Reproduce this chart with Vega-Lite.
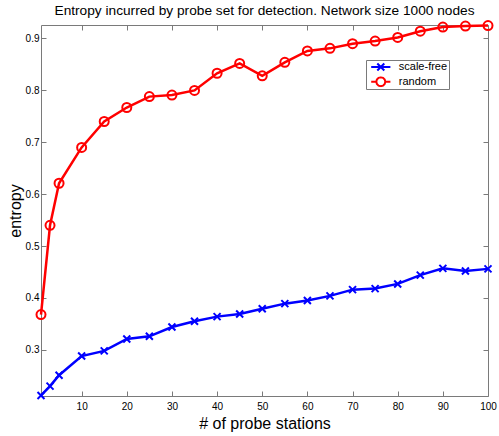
{
  "$schema": "https://vega.github.io/schema/vega-lite/v6.json",
  "width": 447,
  "height": 371,
  "autosize": {"type": "none"},
  "padding": {"left": 41, "top": 25, "right": 11, "bottom": 40},
  "background": "white",
  "config": {
    "view": {"stroke": null},
    "font": "Liberation Sans",
    "axis": {
      "domainColor": "#7a7a7a",
      "tickColor": "#7a7a7a",
      "domainWidth": 1,
      "tickWidth": 1,
      "tickSize": -5,
      "grid": false,
      "labelFlush": false,
      "labelFont": "Liberation Sans",
      "labelFontSize": 10,
      "labelColor": "#000000",
      "titleFont": "Liberation Sans",
      "titleFontSize": 16,
      "titleFontWeight": "normal",
      "titleColor": "#000000"
    }
  },
  "title": {
    "text": "Entropy incurred by probe set for detection. Network size 1000 nodes",
    "font": "Liberation Sans",
    "fontSize": 13.7,
    "fontWeight": "normal",
    "color": "#000000",
    "anchor": "middle",
    "frame": "group",
    "baseline": "alphabetic",
    "offset": 8,
    "dy": 19.5
  },
  "data": {
    "values": [
      {"x": 1, "series": "scale-free", "y": 0.212},
      {"x": 3, "series": "scale-free", "y": 0.230},
      {"x": 5, "series": "scale-free", "y": 0.251},
      {"x": 10, "series": "scale-free", "y": 0.288},
      {"x": 15, "series": "scale-free", "y": 0.298},
      {"x": 20, "series": "scale-free", "y": 0.321},
      {"x": 25, "series": "scale-free", "y": 0.326},
      {"x": 30, "series": "scale-free", "y": 0.344},
      {"x": 35, "series": "scale-free", "y": 0.355},
      {"x": 40, "series": "scale-free", "y": 0.364},
      {"x": 45, "series": "scale-free", "y": 0.369},
      {"x": 50, "series": "scale-free", "y": 0.379},
      {"x": 55, "series": "scale-free", "y": 0.389},
      {"x": 60, "series": "scale-free", "y": 0.395},
      {"x": 65, "series": "scale-free", "y": 0.404},
      {"x": 70, "series": "scale-free", "y": 0.416},
      {"x": 75, "series": "scale-free", "y": 0.418},
      {"x": 80, "series": "scale-free", "y": 0.427},
      {"x": 85, "series": "scale-free", "y": 0.444},
      {"x": 90, "series": "scale-free", "y": 0.457},
      {"x": 95, "series": "scale-free", "y": 0.452},
      {"x": 100, "series": "scale-free", "y": 0.456},
      {"x": 1, "series": "random", "y": 0.368},
      {"x": 3, "series": "random", "y": 0.540},
      {"x": 5, "series": "random", "y": 0.621},
      {"x": 10, "series": "random", "y": 0.690},
      {"x": 15, "series": "random", "y": 0.740},
      {"x": 20, "series": "random", "y": 0.767},
      {"x": 25, "series": "random", "y": 0.788},
      {"x": 30, "series": "random", "y": 0.791},
      {"x": 35, "series": "random", "y": 0.800},
      {"x": 40, "series": "random", "y": 0.833},
      {"x": 45, "series": "random", "y": 0.852},
      {"x": 50, "series": "random", "y": 0.828},
      {"x": 55, "series": "random", "y": 0.854},
      {"x": 60, "series": "random", "y": 0.876},
      {"x": 65, "series": "random", "y": 0.881},
      {"x": 70, "series": "random", "y": 0.890},
      {"x": 75, "series": "random", "y": 0.895},
      {"x": 80, "series": "random", "y": 0.902},
      {"x": 85, "series": "random", "y": 0.914},
      {"x": 90, "series": "random", "y": 0.922},
      {"x": 95, "series": "random", "y": 0.924},
      {"x": 100, "series": "random", "y": 0.925}
    ]
  },
  "resolve": {"axis": {"x": "independent", "y": "independent"}},
  "layer": [
    {
      "mark": {"type": "line", "strokeWidth": 2.5, "clip": false},
      "encoding": {
        "x": {
          "field": "x", "type": "quantitative",
          "scale": {"domain": [1, 100], "nice": false, "zero": false},
          "axis": {
            "orient": "bottom",
            "values": [10, 20, 30, 40, 50, 60, 70, 80, 90, 100],
            "title": "# of probe stations",
            "labelPadding": 10,
            "titleX": 223.5,
            "titleY": 32,
            "titleBaseline": "alphabetic",
            "titleAnchor": null
          }
        },
        "y": {
          "field": "y", "type": "quantitative",
          "scale": {"domain": [0.211, 0.926], "nice": false, "zero": false},
          "axis": {
            "orient": "left",
            "values": [0.3, 0.4, 0.5, 0.6, 0.7, 0.8, 0.9],
            "format": ".1f",
            "title": "entropy",
            "labelPadding": 7,
            "titleX": -20.5,
            "titleY": 185.5,
            "titleAngle": -90,
            "titleBaseline": "alphabetic",
            "titleAlign": "center"
          }
        },
        "color": {
          "field": "series", "type": "nominal",
          "scale": {"domain": ["scale-free", "random"], "range": ["#0000ff", "#ff0000"]},
          "legend": {
            "title": null,
            "orient": "none",
            "legendX": 325,
            "legendY": 35,
            "strokeColor": "#7a7a7a",
            "fillColor": "#ffffff",
            "padding": 1.5,
            "rowPadding": 2.7,
            "clipHeight": 11,
            "symbolSize": 64,
            "symbolOffset": 7.8,
            "symbolStrokeWidth": 2,
            "labelOffset": 12.5,
            "labelFontSize": 11,
            "labelFont": "Liberation Sans",
            "labelColor": "#000000",
            "encode": {
              "symbols": {
                "update": {
                  "shape": {"signal": "datum.value === 'scale-free' ? 'M-2.4,0L2.4,0M-0.875,-0.875L0.875,0.875M-0.875,0.875L0.875,-0.875' : 'M-2.4,0L-1.125,0M1.125,0L2.4,0M1.125,0L0.974,0.5625L0.5625,0.974L0,1.125L-0.5625,0.974L-0.974,0.5625L-1.125,0L-0.974,-0.5625L-0.5625,-0.974L0,-1.125L0.5625,-0.974L0.974,-0.5625Z'"},
                  "fill": {"value": "transparent"},
                  "strokeWidth": {"value": 2}
                }
              }
            }
          }
        }
      }
    },
    {
      "mark": {"type": "point", "filled": false, "strokeWidth": 2, "opacity": 1, "clip": false},
      "encoding": {
        "x": {"field": "x", "type": "quantitative", "axis": null},
        "y": {"field": "y", "type": "quantitative", "axis": null},
        "color": {"field": "series", "type": "nominal", "legend": null},
        "shape": {
          "condition": {"test": "datum.series === 'random'", "value": "circle"},
          "value": "M-1,-1L1,1M-1,1L1,-1"
        },
        "size": {
          "condition": {"test": "datum.series === 'random'", "value": 81},
          "value": 49
        }
      }
    },
    {
      "mark": {"type": "point", "opacity": 0},
      "encoding": {
        "x": {
          "field": "x", "type": "quantitative",
          "axis": {"orient": "top", "values": [10, 20, 30, 40, 50, 60, 70, 80, 90, 100], "labels": false, "title": null}
        },
        "y": {
          "field": "y", "type": "quantitative",
          "axis": {"orient": "right", "values": [0.3, 0.4, 0.5, 0.6, 0.7, 0.8, 0.9], "labels": false, "title": null}
        }
      }
    }
  ]
}
